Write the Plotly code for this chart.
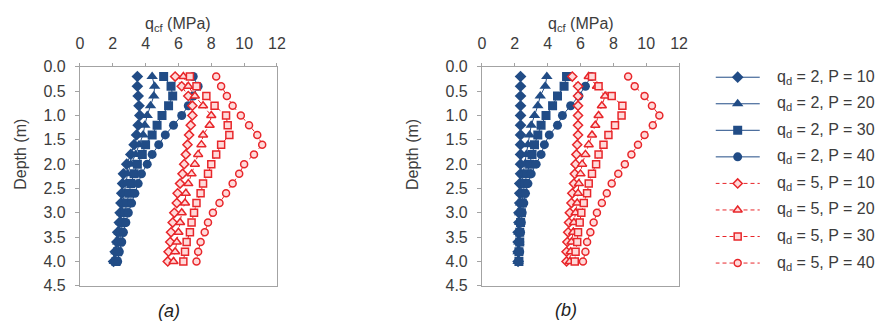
import plotly.graph_objects as go

# Depths of the readings (m)
depth = [0.2, 0.4, 0.6, 0.8, 1.0, 1.2, 1.4, 1.6, 1.8, 2.0,
         2.2, 2.4, 2.6, 2.8, 3.0, 3.2, 3.4, 3.6, 3.8, 4.0]

# Panel (a): q_cf (MPa) per depth
a_q2_p10 = [3.5, 3.5, 3.55, 3.6, 3.65, 3.55, 3.45, 3.3, 3.1, 2.85, 2.65, 2.6, 2.55, 2.5, 2.45, 2.4, 2.3, 2.25, 2.15, 2.05]
a_q2_p20 = [4.4, 4.55, 4.5, 4.3, 4.1, 3.95, 3.85, 3.6, 3.4, 3.1, 2.9, 2.8, 2.7, 2.65, 2.55, 2.5, 2.4, 2.3, 2.2, 2.1]
a_q2_p30 = [5.1, 5.55, 5.65, 5.4, 5.0, 4.7, 4.4, 4.0, 3.8, 3.5, 3.3, 3.1, 3.0, 2.85, 2.75, 2.6, 2.5, 2.4, 2.3, 2.2]
a_q2_p40 = [6.9, 7.2, 6.9, 6.6, 6.2, 5.7, 5.2, 4.8, 4.4, 4.1, 3.75, 3.55, 3.35, 3.15, 2.95, 2.8, 2.65, 2.55, 2.4, 2.3]
a_q5_p10 = [5.8, 6.2, 6.6, 6.85, 6.85, 6.75, 6.65, 6.55, 6.45, 6.35, 6.25, 6.1, 5.95, 5.9, 5.75, 5.65, 5.55, 5.5, 5.4, 5.35]
a_q5_p20 = [6.3, 6.6, 7.0, 7.5, 8.0, 7.9, 7.5, 7.4, 7.2, 7.0, 6.8, 6.6, 6.45, 6.4, 6.2, 6.1, 6.0, 5.9, 5.8, 5.7]
a_q5_p30 = [6.7, 7.1, 7.7, 8.2, 8.9, 9.0, 9.1, 8.6, 8.3, 8.0, 7.8, 7.5, 7.35, 7.1, 6.95, 6.8, 6.7, 6.5, 6.4, 6.3]
a_q5_p40 = [8.3, 8.6, 8.95, 9.3, 9.8, 10.3, 10.8, 11.1, 10.6, 10.0, 9.7, 9.3, 8.9, 8.5, 8.1, 7.8, 7.6, 7.35, 7.2, 7.1]

# Panel (b): q_cf (MPa) per depth
b_q2_p10 = [2.35, 2.35, 2.35, 2.35, 2.35, 2.35, 2.35, 2.35, 2.35, 2.35, 2.35, 2.3, 2.3, 2.3, 2.25, 2.25, 2.2, 2.2, 2.2, 2.2]
b_q2_p20 = [3.95, 3.85, 3.55, 3.4, 3.2, 3.0, 2.9, 2.8, 2.7, 2.6, 2.5, 2.45, 2.4, 2.35, 2.3, 2.3, 2.25, 2.25, 2.2, 2.2]
b_q2_p30 = [5.15, 5.0, 4.6, 4.3, 3.9, 3.6, 3.4, 3.2, 3.05, 2.9, 2.75, 2.6, 2.5, 2.45, 2.4, 2.35, 2.3, 2.3, 2.25, 2.25]
b_q2_p40 = [6.65, 6.3, 5.9, 5.4, 4.9, 4.6, 4.1, 3.8, 3.6, 3.3, 3.0, 2.8, 2.65, 2.55, 2.45, 2.4, 2.35, 2.3, 2.3, 2.25]
b_q5_p10 = [5.5, 5.85, 5.85, 5.85, 5.85, 5.85, 5.85, 5.8, 5.75, 5.7, 5.65, 5.6, 5.5, 5.45, 5.35, 5.3, 5.25, 5.2, 5.15, 5.15]
b_q5_p20 = [6.5, 7.0, 7.5, 7.3, 7.1, 6.9, 6.7, 6.5, 6.3, 6.1, 6.0, 5.9, 5.85, 5.8, 5.7, 5.6, 5.55, 5.45, 5.4, 5.35]
b_q5_p30 = [6.7, 7.1, 7.9, 8.55, 8.5, 8.1, 7.7, 7.4, 7.1, 6.95, 6.7, 6.5, 6.4, 6.2, 6.05, 5.95, 5.85, 5.8, 5.7, 5.65]
b_q5_p40 = [8.9, 9.3, 9.9, 10.35, 10.8, 10.4, 9.9, 9.5, 9.1, 8.7, 8.3, 7.9, 7.6, 7.3, 7.0, 6.8, 6.6, 6.4, 6.3, 6.15]

series_names = [
    "q<sub>d</sub> = 2, P = 10", "q<sub>d</sub> = 2, P = 20",
    "q<sub>d</sub> = 2, P = 30", "q<sub>d</sub> = 2, P = 40",
    "q<sub>d</sub> = 5, P = 10", "q<sub>d</sub> = 5, P = 20",
    "q<sub>d</sub> = 5, P = 30", "q<sub>d</sub> = 5, P = 40",
]
panel_a = [a_q2_p10, a_q2_p20, a_q2_p30, a_q2_p40, a_q5_p10, a_q5_p20, a_q5_p30, a_q5_p40]
panel_b = [b_q2_p10, b_q2_p20, b_q2_p30, b_q2_p40, b_q5_p10, b_q5_p20, b_q5_p30, b_q5_p40]

BLUE = "#214c86"
RED = "#e8262a"
PINK = "#ffd9d9"
symbols = ["diamond", "triangle-up", "square", "circle"]
sizes = [9, 10, 9, 9]

W, H = 895, 328
FONT = "Liberation Sans, Arial, sans-serif"
TICKC = "#3c3c3c"
AXC = "#a3a3a3"
FS = 16


def line_style(i):
    if i < 4:
        return dict(color=BLUE, width=1)
    return dict(color=RED, width=1, dash="4px,3px")


def marker_style(i):
    k = i % 4
    if i < 4:
        return dict(symbol=symbols[k], size=sizes[k], color=BLUE,
                    line=dict(color=BLUE, width=0))
    return dict(symbol=symbols[k], size=sizes[k] - 2, color=PINK,
                line=dict(color=RED, width=1.5))


fig = go.Figure()
for i, (xa, xb) in enumerate(zip(panel_a, panel_b)):
    for xs, xax, yax in [(xa, "x", "y"), (xb, "x2", "y2")]:
        fig.add_trace(go.Scatter(x=xs, y=depth, mode="lines+markers",
                                 name=series_names[i], showlegend=False,
                                 xaxis=xax, yaxis=yax,
                                 line=line_style(i), marker=marker_style(i)))

# Key on the right: a sample line with its marker, then the series label.
# It uses its own hidden axes measured in pixels from the top of the figure.
KEY_X0, KEY_X1, KEY_TEXT_X = 722, 767, 782
KEY_TOP, KEY_STEP = 73, 28
key_rows = [KEY_TOP + KEY_STEP * i for i in range(8)]

for i, row in enumerate(key_rows):
    fig.add_trace(go.Scatter(x=[0, 1], y=[row, row], mode="lines",
                             line=line_style(i), showlegend=False,
                             hoverinfo="skip", xaxis="x3", yaxis="y3"))
    fig.add_trace(go.Scatter(x=[0.5], y=[row], mode="markers",
                             marker=marker_style(i), showlegend=False,
                             hoverinfo="skip", xaxis="x3", yaxis="y3"))

xcommon = dict(side="top", range=[0, 12], tick0=0, dtick=2, showline=True,
               mirror=True, linecolor=AXC, linewidth=1, ticks="outside",
               ticklen=3, tickcolor=AXC, showgrid=False, zeroline=False,
               tickfont=dict(size=FS, color=TICKC), ticklabelstandoff=7)
ycommon = dict(range=[4.5, 0], tick0=0, dtick=0.5, tickformat=".1f",
               showline=True, mirror=True, linecolor=AXC, linewidth=1,
               ticks="outside", ticklen=4, tickcolor=AXC, showgrid=False,
               zeroline=False, tickfont=dict(size=FS, color=TICKC),
               ticklabelstandoff=6)

ydom = [1 - 293 / H, 1 - 62 / H]
fig.update_layout(
    width=W, height=H,
    margin=dict(l=0, r=0, t=0, b=0),
    paper_bgcolor="white", plot_bgcolor="white",
    font=dict(family=FONT, color=TICKC),
    showlegend=False,
    xaxis=dict(domain=[77 / W, 277 / W], anchor="y", **xcommon),
    yaxis=dict(domain=ydom, anchor="x", **ycommon),
    xaxis2=dict(domain=[485 / W, 685 / W], anchor="y2", **xcommon),
    yaxis2=dict(domain=ydom, anchor="x2", **ycommon),
    xaxis3=dict(domain=[KEY_X0 / W, KEY_X1 / W], range=[0, 1], anchor="y3",
                visible=False, fixedrange=True),
    yaxis3=dict(domain=[0, 1], range=[H, 0], anchor="x3",
                visible=False, fixedrange=True),
)

annotations = []
for cx in [177, 585]:
    annotations.append(dict(text="q<sub>cf</sub> (MPa)", x=cx / W, y=1 - 17 / H,
                            xref="paper", yref="paper", showarrow=False,
                            xanchor="center", yanchor="middle",
                            font=dict(size=FS, color=TICKC)))
for cx in [16, 414]:
    annotations.append(dict(text="Depth (m)", x=cx / W, y=1 - 154 / H,
                            xref="paper", yref="paper", showarrow=False,
                            textangle=-90, xanchor="center", yanchor="middle",
                            font=dict(size=FS, color=TICKC)))
for cx, cy, lab in [(167, 320, "(a)"), (570, 319, "(b)")]:
    annotations.append(dict(text="<i>" + lab + "</i>", x=cx / W, y=1 - cy / H,
                            xref="paper", yref="paper", showarrow=False,
                            xanchor="center", yanchor="middle",
                            font=dict(size=18, color="#222222")))
for name, row in zip(series_names, key_rows):
    annotations.append(dict(text=name, x=KEY_TEXT_X / W, y=1 - row / H,
                            xref="paper", yref="paper", showarrow=False,
                            xanchor="left", yanchor="middle",
                            font=dict(size=FS, color=TICKC)))
fig.update_layout(annotations=annotations)

fig.write_html("out.html")
